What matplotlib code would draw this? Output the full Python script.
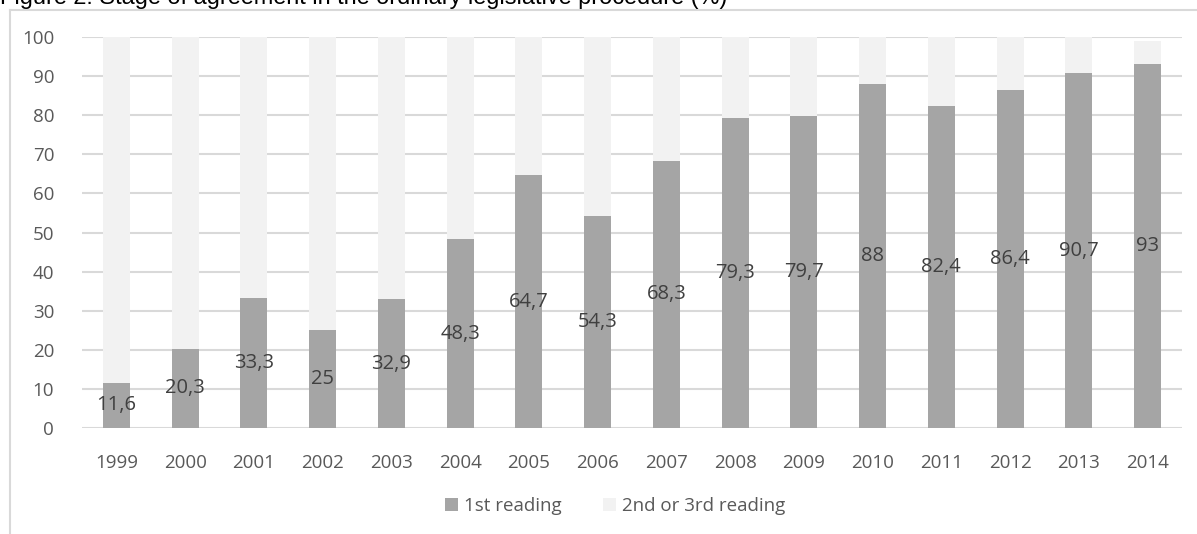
import matplotlib
matplotlib.use("Agg")
import matplotlib.pyplot as plt
from matplotlib.lines import Line2D
import numpy as np

years = ['1999', '2000', '2001', '2002', '2003', '2004', '2005', '2006',
         '2007', '2008', '2009', '2010', '2011', '2012', '2013', '2014']
first_reading = [11.6, 20.3, 33.3, 25, 32.9, 48.3, 64.7, 54.3,
                 68.3, 79.3, 79.7, 88, 82.4, 86.4, 90.7, 93]
second_third = [88.4, 79.7, 66.7, 75, 67.1, 51.7, 35.3, 45.7,
                31.7, 20.7, 20.3, 12, 17.6, 13.6, 9.3, 6]
labels = ['11,6', '20,3', '33,3', '25', '32,9', '48,3', '64,7', '54,3',
          '68,3', '79,3', '79,7', '88', '82,4', '86,4', '90,7', '93']

W, H = 1197, 534
fig = plt.figure(figsize=(W / 100, H / 100), dpi=100)
ax = fig.add_axes([82 / W, (H - 428) / H, 1100 / W, 391 / H])

x = np.arange(len(years))
b1 = ax.bar(x, first_reading, width=0.39, color='#a5a5a5', zorder=2,
            label='1st reading')
b2 = ax.bar(x, second_third, width=0.39, bottom=first_reading,
            color='#f2f2f2', zorder=2, label='2nd or 3rd reading')

for xi, v, t in zip(x, first_reading, labels):
    ax.text(xi, v / 2, t, ha='center', va='center', fontsize=14.5,
            family='Open Sans', color='#404040', zorder=3)

ax.set_xlim(-0.5, len(years) - 0.5)
ax.set_ylim(0, 100)
ax.set_yticks(range(0, 101, 10))
ax.set_xticks(x)
ax.set_xticklabels(years)
ax.grid(axis='y', color='#d9d9d9', linewidth=1.5, zorder=0)
ax.tick_params(length=0, labelsize=13.5, labelcolor='#595959')
ax.tick_params(axis='y', pad=20)
ax.tick_params(axis='x', pad=19)
for lab in ax.get_xticklabels() + ax.get_yticklabels():
    lab.set_family('Open Sans')
for s in ax.spines.values():
    s.set_visible(False)

# chart area border
fig.add_artist(Line2D([10 / W, 10 / W], [0, 1 - 10 / H], color='#d9d9d9',
                      linewidth=1.5, transform=fig.transFigure))
fig.add_artist(Line2D([10 / W, 1], [1 - 10 / H, 1 - 10 / H], color='#d9d9d9',
                      linewidth=1.5, transform=fig.transFigure))

# title is cut off at the top edge, as in the source image
fig.text(0.0, 1 - 4 / H,
         'Figure 2: Stage of agreement in the ordinary legislative procedure (%)',
         ha='left', va='baseline', fontsize=16.9, family='Liberation Sans',
         color='black')

leg = fig.legend(handles=[b1, b2], loc='center',
                 bbox_to_anchor=(615 / W, 1 - 506 / H), ncol=2, frameon=False,
                 prop={'family': 'Open Sans', 'size': 13.5},
                 handlelength=0.7, handleheight=0.7, handletextpad=0.3,
                 columnspacing=2.2)
for t in leg.get_texts():
    t.set_color('#595959')

fig.savefig('out.png', dpi=100)
